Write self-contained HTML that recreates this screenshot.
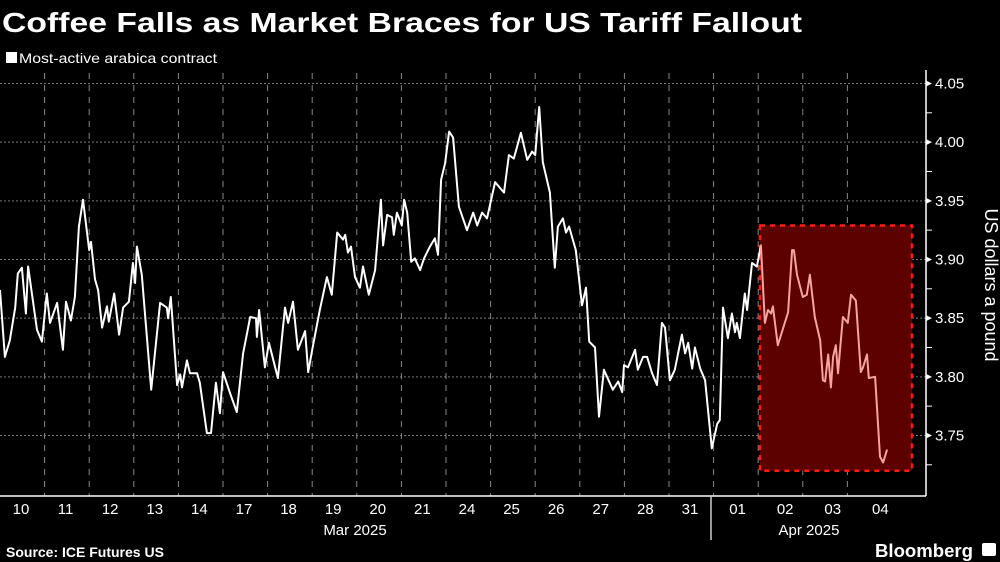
<!DOCTYPE html>
<html><head><meta charset="utf-8"><style>
html,body{margin:0;padding:0;background:#000;width:1000px;height:562px;overflow:hidden}
svg{display:block}
text{font-family:"Liberation Sans","DejaVu Sans",sans-serif;fill:#fff}
</style></head><body>
<svg id="chart" width="1000" height="562" viewBox="0 0 1000 562">
<rect x="0" y="0" width="1000" height="562" fill="#000"/>
<text x="2" y="32" font-size="28" font-weight="bold" textLength="800" lengthAdjust="spacingAndGlyphs">Coffee Falls as Market Braces for US Tariff Fallout</text>
<rect x="6" y="52" width="11" height="11" fill="#fff"/>
<text x="19" y="63" font-size="14" textLength="198" lengthAdjust="spacingAndGlyphs">Most-active arabica contract</text>
<g id="grid"></g>
<g id="box"></g>
<g id="lines"></g>
<g id="axes"></g>
<text x="985" y="285" font-size="18" text-anchor="middle" transform="rotate(90 985 285)">US dollars a pound</text>
<text x="6" y="557" font-size="14" font-weight="bold">Source: ICE Futures US</text>
<text x="875" y="557" font-size="18" font-weight="bold" textLength="98" lengthAdjust="spacingAndGlyphs">Bloomberg</text>
<rect x="982" y="543" width="14" height="13" rx="2" fill="#fff"/>
</svg>
<script>
const dayLabels=["10","11","12","13","14","17","18","19","20","21","24","25","26","27","28","31","01","02","03","04"];
const yTicks=[3.75,3.80,3.85,3.90,3.95,4.00,4.05];
const times=[0,.11,.22,.34,.40,.49,.58,.63,.83,.94,1.05,1.12,1.28,1.41,1.48,1.59,1.68,1.77,1.86,2.00,2.04,2.13,2.20,2.29,2.40,2.44,2.56,2.67,2.76,2.89,2.98,3.03,3.07,3.18,3.39,3.59,3.74,3.77,3.83,3.97,4.04,4.08,4.19,4.26,4.42,4.48,4.64,4.73,4.84,4.93,5.00,5.16,5.31,5.45,5.61,5.74,5.76,5.81,5.94,6.03,6.23,6.39,6.46,6.57,6.68,6.84,6.91,7.00,7.17,7.33,7.44,7.56,7.69,7.74,7.80,7.87,7.96,8.07,8.14,8.27,8.41,8.54,8.59,8.68,8.79,8.83,8.90,9.01,9.06,9.13,9.22,9.30,9.42,9.51,9.64,9.75,9.82,9.89,9.98,10.07,10.16,10.29,10.47,10.61,10.70,10.81,10.92,11.10,11.30,11.41,11.52,11.68,11.82,11.93,12.00,12.09,12.17,12.33,12.44,12.51,12.62,12.69,12.76,12.91,13.05,13.14,13.21,13.34,13.43,13.54,13.74,13.86,13.95,13.99,14.08,14.24,14.30,14.42,14.51,14.62,14.73,14.84,14.91,15.02,15.13,15.29,15.36,15.43,15.52,15.58,15.70,15.81,15.96,16.08,16.14,16.21,16.32,16.41,16.48,16.52,16.59,16.70,16.75,16.86,16.97,17.06,17.15,17.22,17.29,17.33,17.44,17.67,17.76,17.80,17.87,18.00,18.09,18.16,18.27,18.39,18.45,18.50,18.57,18.63,18.68,18.74,18.79,18.90,19.01,19.08,19.19,19.30,19.35,19.44,19.48,19.62,19.73,19.80,19.89];
const prices=[3.874,3.817,3.831,3.859,3.888,3.893,3.854,3.894,3.840,3.830,3.871,3.846,3.863,3.823,3.864,3.848,3.868,3.928,3.951,3.908,3.915,3.883,3.874,3.842,3.860,3.847,3.871,3.836,3.859,3.864,3.897,3.880,3.911,3.887,3.789,3.863,3.859,3.850,3.868,3.793,3.802,3.791,3.814,3.803,3.803,3.795,3.752,3.752,3.795,3.769,3.804,3.786,3.770,3.820,3.851,3.850,3.834,3.857,3.808,3.829,3.799,3.859,3.846,3.864,3.823,3.839,3.804,3.823,3.857,3.885,3.870,3.923,3.917,3.921,3.906,3.911,3.885,3.876,3.894,3.870,3.891,3.951,3.912,3.938,3.936,3.921,3.940,3.929,3.951,3.940,3.898,3.901,3.891,3.901,3.911,3.918,3.904,3.968,3.982,4.009,4.004,3.945,3.925,3.940,3.929,3.940,3.935,3.966,3.957,3.989,3.986,4.008,3.985,3.992,3.989,4.030,3.983,3.957,3.893,3.928,3.935,3.923,3.928,3.908,3.861,3.876,3.830,3.825,3.766,3.806,3.789,3.796,3.787,3.810,3.808,3.823,3.806,3.817,3.817,3.803,3.793,3.846,3.842,3.797,3.806,3.836,3.820,3.829,3.807,3.825,3.807,3.797,3.739,3.760,3.763,3.859,3.833,3.854,3.838,3.846,3.833,3.871,3.857,3.897,3.894,3.912,3.846,3.857,3.854,3.860,3.827,3.855,3.908,3.908,3.887,3.868,3.870,3.887,3.851,3.831,3.797,3.796,3.819,3.791,3.817,3.827,3.803,3.851,3.846,3.870,3.865,3.804,3.808,3.819,3.799,3.800,3.732,3.727,3.738];
const boxRange=[17.04,20.45];
const boxValues=[3.72,3.929];

const NS="http://www.w3.org/2000/svg";
const DAY=44.6;
function xs(t){return t*DAY;}
function ys(v){return 259.5-(v-3.90)*1173.3;}
function mk(tag,attrs,parent){const e=document.createElementNS(NS,tag);for(const k in attrs)e.setAttribute(k,attrs[k]);parent.appendChild(e);return e;}
const grid=document.getElementById('grid'),box=document.getElementById('box'),lines=document.getElementById('lines'),axes=document.getElementById('axes');
const AX=926,AXY=496;
yTicks.forEach(v=>{const y=ys(v);
 const g=mk('line',{x1:0,x2:AX,y1:y,y2:y,stroke:'#777','stroke-width':1,'stroke-dasharray':'2,2'},grid);
 
 
});
for(let i=1;i<dayLabels.length;i++){const x=xs(i);
 const g=mk('line',{x1:x,x2:x,y1:73,y2:AXY,stroke:'#888','stroke-width':1,'stroke-dasharray':'6,6'},grid);
 
 
}
const b=mk('rect',{x:xs(boxRange[0]),y:ys(boxValues[1]),width:xs(boxRange[1])-xs(boxRange[0]),height:ys(boxValues[0])-ys(boxValues[1]),fill:'#5c0000',stroke:'#ff1a1a','stroke-width':2.5,'stroke-dasharray':'5,5'},box);


const defs=mk('defs',{},lines);
const c1=mk('clipPath',{id:'cl'},defs);mk('rect',{x:0,y:0,width:xs(boxRange[0]),height:562},c1);
const c2=mk('clipPath',{id:'cr'},defs);mk('rect',{x:xs(boxRange[0]),y:0,width:1000,height:562},c2);
const d=times.map((t,i)=>(i?'L':'M')+xs(t).toFixed(1)+','+ys(prices[i]).toFixed(1)).join('');
const p1=mk('path',{d:d,fill:'none',stroke:'#fff','stroke-width':2,'stroke-linejoin':'round','clip-path':'url(#cl)'},lines);


const p2=mk('path',{d:d,fill:'none',stroke:'#f6a3a3','stroke-width':2,'stroke-linejoin':'round','clip-path':'url(#cr)'},lines);


const ya=mk('line',{x1:AX,x2:AX,y1:70,y2:AXY,stroke:'#fff','stroke-width':1.5},axes);


const xa=mk('line',{x1:0,x2:AX,y1:AXY,y2:AXY,stroke:'#fff','stroke-width':1.5},axes);


yTicks.forEach(v=>{const y=ys(v);
 mk('path',{d:`M${AX},${y-3}L${AX+6},${y}L${AX},${y+3}Z`,fill:'#fff'},axes);
 mk('line',{x1:AX,x2:AX+6,y1:y+29.3,y2:y+29.3,stroke:'#fff','stroke-width':1},axes);
 const t=mk('text',{x:AX+9,y:y+5,'font-size':15},axes);t.textContent=v.toFixed(2);
 
 
});
dayLabels.forEach((l,i)=>{const off=i>=16?(i-15)*3:0;const t=mk('text',{x:xs(i+0.47)+off,y:514,'font-size':15,'text-anchor':'middle'},axes);t.textContent=l;
 
 
});
const sep=mk('line',{x1:711,x2:711,y1:AXY,y2:540,stroke:'#ccc','stroke-width':1.5},axes);


const m1=mk('text',{x:355,y:535,'font-size':15,'text-anchor':'middle'},axes);m1.textContent='Mar 2025';


const m2=mk('text',{x:809,y:535,'font-size':15,'text-anchor':'middle'},axes);m2.textContent='Apr 2025';


</script>
</body></html>
